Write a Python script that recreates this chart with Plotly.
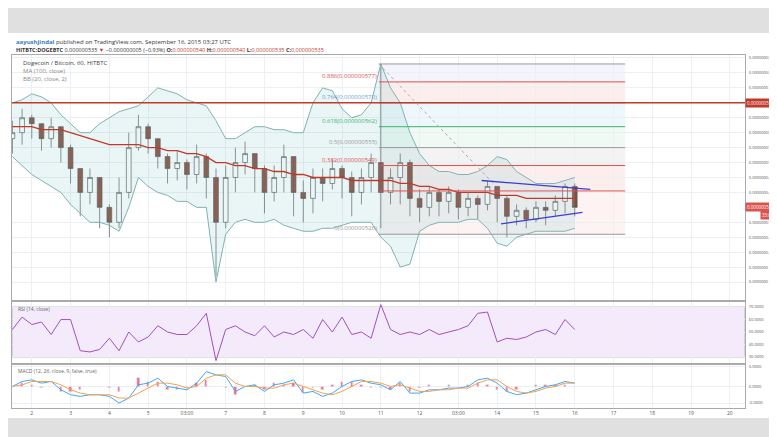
import plotly.graph_objects as go
from plotly.subplots import make_subplots

# time axis: days of September (6h candles)
t = [1.5 + 0.25 * i for i in range(59)]
close = [560,565,563,558,562,555,548,540,545,535,530,540,555,562,558,552,548,550,546,552,
         545,530,545,550,553,548,540,545,552,540,538,545,543,548,545,540,545,550,540,545,
         550,538,535,540,537,540,535,538,536,542,538,532,534,531,535,534,537,542,535]
open_ = [558] + close[:-1]
high = [564,568,566,562,565,560,556,548,548,542,536,545,560,566,563,558,553,554,551,556,
        553,548,549,555,557,553,549,549,556,552,544,548,548,551,549,547,548,553,583,548,
        553,551,541,542,541,542,541,540,539,544,542,539,536,535,537,537,539,543,543]
low = [553,556,558,554,555,550,543,532,536,528,525,528,538,554,553,548,543,544,541,543,
       538,512,528,540,546,540,533,537,540,532,530,533,537,541,538,532,536,540,528,536,
       536,532,530,532,532,533,531,532,531,534,530,525,529,528,530,529,532,533,532]
ma = [562,562,562,561,561,561,560,559,558,557,556,556,556,556,555,555,554,554,553,553,
      552,550,550,549,549,548,548,547,547,546,546,545,545,545,545,544,544,544,544,544,
      543,543,542,542,541,541,540,540,540,540,539,539,539,538,538,538,538,538,538]
bb_up = [570,571,573,572,570,566,563,560,560,563,565,567,568,569,572,575,574,573,571,570,
         569,564,558,558,560,562,562,561,561,560,560,570,575,574,568,565,566,570,583,575,
         570,560,553,549,547,547,546,546,547,549,552,551,547,545,543,543,543,544,545]
bb_lo = [552,549,546,544,542,540,536,533,530,530,529,527,535,545,542,540,539,537,537,535,
         535,510,526,530,531,530,530,531,529,528,527,527,528,528,529,530,530,530,525,522,
         515,516,527,529,530,530,530,531,531,528,523,522,525,526,527,527,527,527,528]
rsi = [52,62,56,58,48,60,60,35,34,36,45,35,50,42,46,55,50,48,48,55,65,27,52,55,50,47,55,46,
       50,48,52,45,60,50,62,48,50,45,72,52,48,50,48,52,48,50,52,55,65,66,42,45,44,46,50,52,
       48,60,52]
macd = [0,0.3,0.4,0.2,0.3,-0.2,-0.5,-0.6,-0.5,-0.5,-0.6,-1.0,-0.7,0.1,0.2,0.5,0.0,-0.1,
        -0.2,0.2,0.9,0.7,0.6,-0.3,0.0,0.1,-0.3,0.1,0.2,0.4,-0.4,-0.3,-0.6,-0.4,0.0,0.3,0.4,
        0.2,0.1,-0.2,0.3,-0.4,-0.4,-0.2,-0.2,-0.1,-0.1,0.0,0.4,0.5,0.2,-0.3,-0.5,-0.4,-0.2,
        0.0,0.1,0.3,0.2]
signal = [0,0.1,0.3,0.3,0.3,0.1,-0.2,-0.4,-0.5,-0.5,-0.5,-0.7,-0.7,-0.4,-0.1,0.2,0.2,0.1,
          -0.1,0.0,0.5,0.7,0.7,0.2,0.0,0.0,-0.1,-0.1,0.1,0.2,0.0,-0.2,-0.4,-0.5,-0.3,0.0,
          0.3,0.3,0.2,0.0,0.1,-0.1,-0.3,-0.3,-0.2,-0.2,-0.1,-0.1,0.2,0.4,0.4,0.0,-0.3,-0.4,
          -0.3,-0.1,0.0,0.2,0.2]
hist = [m - s for m, s in zip(macd, signal)]

fib_lv = [583, 577, 570, 562, 555, 549, 540.5, 526]
fib_lab = ["", "0.886(0.000000577)", "0.764(0.000000570)", "0.618(0.000000562)",
           "0.5(0.000000555)", "0.382(0.000000549)", "", "0(0.000000526)"]
fib_line = ["#999", "#e05050", "#6a9fd0", "#3cb371", "#999", "#e05050", "#e05050", "#999"]
fib_fill = ["rgba(180,180,240,0.15)", "rgba(240,120,120,0.13)", "rgba(120,200,230,0.13)",
            "rgba(120,220,160,0.13)", "rgba(160,160,160,0.13)", "rgba(240,120,120,0.13)",
            "rgba(240,140,140,0.10)"]
day_ticks = [2,3,4,5,6,7,8,9,10,11,12,13,14,15,16,17,18,19,20]
day_labels = ["2","3","4","5","03:00","7","8","9","10","11","12","03:00","14","15","16",
              "17","18","19","20"]
price_ticks = [510, 515, 520, 525, 530, 540, 545, 550, 555, 560, 565, 575, 580, 585]

fig = make_subplots(rows=3, cols=1, shared_xaxes=True, vertical_spacing=0.01)
fig.add_trace(go.Scatter(x=t, y=bb_up, mode="lines", line=dict(color="#7fb3b3", width=1)), 1, 1)
fig.add_trace(go.Scatter(x=t, y=bb_lo, mode="lines", line=dict(color="#7fb3b3", width=1),
                         fill="tonexty", fillcolor="rgba(140,200,200,0.18)"), 1, 1)
fig.add_trace(go.Candlestick(x=t, open=open_, high=high, low=low, close=close,
                             increasing=dict(line=dict(color="#555", width=0.7), fillcolor="white"),
                             decreasing=dict(line=dict(color="#555", width=0.7), fillcolor="#8b4a3c"),
                             whiskerwidth=0), 1, 1)
fig.add_trace(go.Scatter(x=t, y=ma, mode="lines", line=dict(color="#c0392b", width=1.3)), 1, 1)
fig.add_trace(go.Scatter(x=t, y=rsi, mode="lines", line=dict(color="#a050c0", width=1)), 2, 1)
fig.add_trace(go.Bar(x=t, y=hist, marker_color="#f07090", width=0.06), 3, 1)
fig.add_trace(go.Scatter(x=t, y=macd, mode="lines", line=dict(color="#3fa9f5", width=1)), 3, 1)
fig.add_trace(go.Scatter(x=t, y=signal, mode="lines", line=dict(color="#f5a050", width=1)), 3, 1)

shapes = [dict(type="rect", xref="paper", yref="paper", x0=-0.01, x1=1.06, y0=-0.028, y1=1.062,
               fillcolor="white", line_width=0, layer="below")]
x0f, x1f = 10.95, 17.3
for i in range(len(fib_lv) - 1):
    shapes.append(dict(type="rect", x0=x0f, x1=x1f, y0=fib_lv[i + 1], y1=fib_lv[i],
                       fillcolor=fib_fill[i], line_width=0, layer="below", xref="x", yref="y"))
for lv, c in zip(fib_lv, fib_line):
    shapes.append(dict(type="line", x0=x0f, x1=x1f, y0=lv, y1=lv, line=dict(color=c, width=1),
                       xref="x", yref="y"))
shapes += [
    dict(type="line", xref="x domain", x0=0, x1=1, yref="y", y0=570, y1=570,
         line=dict(color="#c0392b", width=1.5)),
    dict(type="line", x0=10.95, x1=13.9, y0=583, y1=543, line=dict(color="#aaa", width=1, dash="dot"),
         xref="x", yref="y"),
    dict(type="line", x0=13.6, x1=16.4, y0=544, y1=541, line=dict(color="#3b3bd6", width=1.3),
         xref="x", yref="y"),
    dict(type="line", x0=14.1, x1=16.2, y0=529.5, y1=533.3, line=dict(color="#3b3bd6", width=1.3),
         xref="x", yref="y"),
    dict(type="rect", xref="x2 domain", x0=0, x1=1, yref="y2", y0=30, y1=70,
         fillcolor="rgba(200,150,240,0.2)", line=dict(color="#bbb", width=1), layer="below"),
]
fig.update_layout(shapes=shapes)

ann = [
    dict(text="<b style='color:#3b7bbf'>aayushjindal</b> published on TradingView.com, September 16, 2015 03:27 UTC",
         x=0.003, y=1.053, xref="paper", yref="paper", showarrow=False, xanchor="left", font=dict(size=6, color="#333")),
    dict(text="<b>HITBTC:DOGEBTC</b> 0.000000535 <span style='color:#c0392b'>▼</span> −0.000000005 (−0.93%) <b>O:</b><span style='color:#c0392b'>0.000000540</span> <b>H:</b><span style='color:#c0392b'>0.000000540</span> <b>L:</b><span style='color:#c0392b'>0.000000535</span> <b>C:</b><span style='color:#c0392b'>0.000000535</span>",
         x=0.003, y=1.03, xref="paper", yref="paper", showarrow=False, xanchor="left", font=dict(size=5.5, color="#333")),
    dict(text="Dogecoin / Bitcoin, 60, HITBTC<br><span style='color:#888'>MA (100, close)</span><br><span style='color:#888'>BB (20, close, 2)</span>",
         x=0.012, y=0.995, xref="paper", yref="paper", showarrow=False, xanchor="left", yanchor="top",
         align="left", font=dict(size=6, color="#444")),
    dict(text="RSI (14, close)", x=0.006, y=0.296, xref="paper", yref="paper", showarrow=False,
         xanchor="left", yanchor="top", font=dict(size=5, color="#666")),
    dict(text="MACD (12, 26, close, 9, false, true)", x=0.006, y=0.118, xref="paper", yref="paper",
         showarrow=False, xanchor="left", yanchor="top", font=dict(size=5, color="#666")),
    dict(text="0.000000570", x=1.0, xref="paper", xanchor="left", y=570, yref="y", showarrow=False,
         bgcolor="#c0392b", font=dict(size=4.5, color="white"), borderpad=1),
    dict(text="0.000000535", x=1.0, xref="paper", xanchor="left", y=535, yref="y", showarrow=False,
         bgcolor="#d9534f", font=dict(size=4.5, color="white"), borderpad=1),
    dict(text="33:05", x=1.02, xref="paper", xanchor="left", y=532.3, yref="y", showarrow=False,
         bgcolor="#d9534f", font=dict(size=4.5, color="white"), borderpad=1),
]
for lv, lab, c in zip(fib_lv, fib_lab, fib_line):
    if lab:
        ann.append(dict(text=lab, x=x0f, xref="x", xanchor="right", y=lv, yref="y", yanchor="bottom",
                        showarrow=False, font=dict(size=6, color=c)))
fig.update_layout(annotations=ann)

grid = "#eceff3"
fig.update_xaxes(range=[1.49, 20.39], tickvals=day_ticks, ticktext=day_labels, showgrid=True,
                 gridcolor=grid, rangeslider_visible=False, showline=True, linecolor="#aaa",
                 mirror=True, tickfont=dict(size=5, color="#555"), ticks="")
fig.update_yaxes(side="right", showgrid=True, gridcolor=grid, showline=True, linecolor="#aaa",
                 mirror=True, tickfont=dict(size=4, color="#555"), zeroline=False, ticks="",
                 ticklabelstandoff=2)
fig.update_yaxes(range=[504, 586], tickvals=price_ticks,
                 ticktext=["0.000000%03d" % p for p in price_ticks], row=1, col=1)
fig.update_yaxes(range=[25, 74], tickvals=[30, 40, 50, 60, 70],
                 ticktext=["30.0000", "40.0000", "50.0000", "60.0000", "70.0000"], row=2, col=1)
fig.update_yaxes(range=[-1.3, 1.3], tickvals=[-1, 0, 1.2],
                 ticktext=["-0.0000", "0.0000", "0.0000"], row=3, col=1)
fig.update_layout(
    width=777, height=437, margin=dict(l=4, r=40, t=47, b=37),
    paper_bgcolor="#e0e0e0", plot_bgcolor="rgba(0,0,0,0)", showlegend=False,
    yaxis=dict(domain=[0.306, 1]), yaxis2=dict(domain=[0.127, 0.300]), yaxis3=dict(domain=[0, 0.122]),
    font=dict(family="Open Sans"), bargap=0,
)
fig.write_html("out.html")
